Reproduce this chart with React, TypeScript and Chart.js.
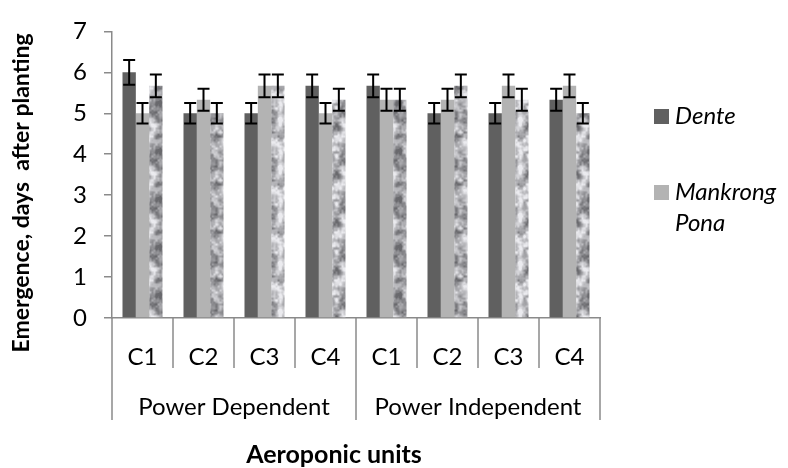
import React, { useEffect, useRef } from 'react';
import { Chart, registerables } from 'chart.js';

Chart.register(...registerables);

// ---- data ----
const categories = ['C1', 'C2', 'C3', 'C4', 'C1', 'C2', 'C3', 'C4'];
const groupLabels = ['Power Dependent', 'Power Independent'];
const dente = [6.0, 5.0, 5.0, 5.67, 5.67, 5.0, 5.0, 5.33];
const mankrongPona = [5.0, 5.33, 5.67, 5.0, 5.33, 5.33, 5.67, 5.67];
const thirdSeries = [5.67, 5.0, 5.67, 5.33, 5.33, 5.67, 5.33, 5.0];
const denteErr = [0.3, 0.25, 0.25, 0.28, 0.28, 0.25, 0.25, 0.27];
const mankrongErr = [0.25, 0.27, 0.28, 0.25, 0.27, 0.27, 0.28, 0.28];
const thirdErr = [0.28, 0.25, 0.28, 0.27, 0.27, 0.28, 0.27, 0.25];
const seriesNames = ['Dente', 'Mankrong Pona', 'Series 3'];
const legendLines = [['Dente'], ['Mankrong', 'Pona']];
const yMin = 0;
const yMax = 7;
const yStep = 1;
const yTitle = 'Emergence, days  after planting';
const xTitle = 'Aeroponic units';

const FONT = 'Lato';
const AXIS = '#8a8a8a';

function makeGranite(): CanvasPattern | string {
  const S = 48;
  const c = document.createElement('canvas');
  c.width = S;
  c.height = S;
  const g = c.getContext('2d');
  if (!g) return '#b0b0b0';
  const hash = (x: number, y: number, s: number) => {
    let h = (x * 374761393 + y * 668265263 + s * 982451653) | 0;
    h = Math.imul(h ^ (h >>> 13), 1274126177);
    h = h ^ (h >>> 16);
    return (h >>> 0) / 4294967295;
  };
  const noise = (px: number, py: number, cell: number, seed: number) => {
    const n = S / cell;
    const gx = px / cell, gy = py / cell;
    const x0 = Math.floor(gx), y0 = Math.floor(gy);
    const fx = gx - x0, fy = gy - y0;
    const sx = fx * fx * (3 - 2 * fx), sy = fy * fy * (3 - 2 * fy);
    const v = (a: number, b: number) => hash(((a % n) + n) % n, ((b % n) + n) % n, seed);
    const a = v(x0, y0) * (1 - sx) + v(x0 + 1, y0) * sx;
    const b = v(x0, y0 + 1) * (1 - sx) + v(x0 + 1, y0 + 1) * sx;
    return a * (1 - sy) + b * sy;
  };
  const img = g.createImageData(S, S);
  for (let y = 0; y < S; y++) {
    for (let x = 0; x < S; x++) {
      const v = 0.45 * noise(x, y, 8, 1) + 0.35 * noise(x, y, 4, 2) + 0.2 * noise(x, y, 2, 3);
      const t = Math.min(1, Math.max(0, (v - 0.22) / 0.56));
      const gray = Math.round(105 + t * 130);
      const k = (y * S + x) * 4;
      img.data[k] = gray;
      img.data[k + 1] = gray;
      img.data[k + 2] = Math.min(255, gray + 4);
      img.data[k + 3] = 255;
    }
  }
  g.putImageData(img, 0, 0);
  const p = g.createPattern(c, 'repeat');
  return p || '#b0b0b0';
}

const overlayPlugin = {
  id: 'overlay',
  afterDatasetsDraw(chart: any) {
    const ctx = chart.ctx;
    const ys = chart.scales.y;
    ctx.save();
    ctx.strokeStyle = '#000';
    ctx.lineWidth = 2;
    chart.data.datasets.forEach((ds: any, di: number) => {
      const meta = chart.getDatasetMeta(di);
      meta.data.forEach((bar: any, i: number) => {
        const v = ds.data[i];
        const e = ds.errors[i];
        const yt = ys.getPixelForValue(v + e);
        const yb = ys.getPixelForValue(v - e);
        const x = bar.x;
        const hw = 6;
        ctx.beginPath();
        ctx.moveTo(x, yt);
        ctx.lineTo(x, yb);
        ctx.moveTo(x - hw, yt);
        ctx.lineTo(x + hw, yt);
        ctx.moveTo(x - hw, yb);
        ctx.lineTo(x + hw, yb);
        ctx.stroke();
      });
    });
    ctx.restore();
  },
  afterDraw(chart: any) {
    const ctx = chart.ctx;
    const xs = chart.scales.x;
    const x2 = chart.scales.x2;
    const n = categories.length;
    const w = (xs.right - xs.left) / n;
    const perGroup = n / groupLabels.length;
    ctx.save();
    // separators
    ctx.strokeStyle = AXIS;
    ctx.lineWidth = 1.5;
    for (let i = 0; i <= n; i++) {
      const bx = Math.round(xs.left + i * w);
      const isGroup = i % perGroup === 0;
      ctx.beginPath();
      ctx.moveTo(bx, xs.top);
      ctx.lineTo(bx, isGroup ? x2.top + 52 : xs.bottom);
      ctx.stroke();
    }
    // axis titles
    ctx.fillStyle = '#000';
    ctx.textAlign = 'center';
    ctx.textBaseline = 'middle';
    ctx.font = `bold 25px ${FONT}`;
    ctx.fillText(xTitle, 334, 455);
    ctx.font = `bold 23px ${FONT}`;
    ctx.save();
    ctx.translate(22, 193);
    ctx.rotate(-Math.PI / 2);
    ctx.fillText(yTitle, 0, 0);
    ctx.restore();
    // legend
    const rows = [116, 192];
    ctx.font = `italic 24px ${FONT}`;
    ctx.textAlign = 'left';
    legendLines.forEach((lines, li) => {
      const ds = chart.data.datasets[li];
      const cy = rows[li];
      ctx.fillStyle = ds.backgroundColor;
      ctx.fillRect(654, cy - 7, 15, 15);
      ctx.fillStyle = '#000';
      lines.forEach((t, k) => {
        ctx.fillText(t, 675, cy + k * 31);
      });
    });
    ctx.restore();
  },
};

export default function App() {
  const ref = useRef<HTMLCanvasElement | null>(null);

  useEffect(() => {
    let chart: Chart | null = null;
    let cancelled = false;
    const build = () => {
      if (cancelled || !ref.current) return;
      Chart.defaults.font.family = FONT;
      const granite = makeGranite();
      chart = new Chart(ref.current, {
        type: 'bar',
        data: {
          labels: categories,
          datasets: [
            { label: seriesNames[0], data: dente, errors: denteErr, backgroundColor: '#606060', borderWidth: 0 } as any,
            { label: seriesNames[1], data: mankrongPona, errors: mankrongErr, backgroundColor: '#b3b3b3', borderWidth: 0 } as any,
            { label: seriesNames[2], data: thirdSeries, errors: thirdErr, backgroundColor: granite, borderWidth: 0 } as any,
          ],
        },
        options: {
          responsive: false,
          animation: false,
          layout: { padding: { left: 0, right: 188, top: 24, bottom: 0 } },
          datasets: { bar: { categoryPercentage: 0.656, barPercentage: 1.0 } },
          plugins: { legend: { display: false }, tooltip: { enabled: false }, title: { display: false } },
          scales: {
            y: {
              min: yMin,
              max: yMax,
              ticks: { stepSize: yStep, color: '#000', font: { size: 24, family: FONT }, padding: 17 },
              grid: { drawOnChartArea: false, drawTicks: true, tickLength: 8, color: AXIS, lineWidth: 1.5 },
              border: { display: true, color: AXIS, width: 1.5 },
              afterFit: (s: any) => { s.width = 112; },
            },
            x: {
              weight: 0,
              offset: true,
              ticks: { color: '#000', font: { size: 24, family: FONT }, padding: 17, maxRotation: 0, autoSkip: false },
              grid: { display: false },
              border: { display: true, color: AXIS, width: 1.5 },
              afterFit: (s: any) => { s.height = 50; },
            },
            x2: {
              type: 'category',
              position: 'bottom',
              weight: 1,
              offset: true,
              labels: groupLabels,
              ticks: { color: '#000', font: { size: 24, family: FONT }, padding: 17, maxRotation: 0, autoSkip: false },
              grid: { display: false },
              border: { display: false },
              afterFit: (s: any) => { s.height = 100; },
            },
          },
        } as any,
        plugins: [overlayPlugin],
      });
    };
    const fonts = (document as any).fonts;
    if (fonts && fonts.load) {
      Promise.all([
        fonts.load(`24px ${FONT}`),
        fonts.load(`bold 23px ${FONT}`),
        fonts.load(`italic 24px ${FONT}`),
      ]).then(build, build);
    } else {
      build();
    }
    return () => {
      cancelled = true;
      if (chart) chart.destroy();
    };
  }, []);

  return (
    <div style={{ position: 'absolute', left: 0, top: 0, width: 788, height: 468, background: '#fff' }}>
      <canvas ref={ref} width={788} height={468} style={{ width: 788, height: 468 }} />
    </div>
  );
}
